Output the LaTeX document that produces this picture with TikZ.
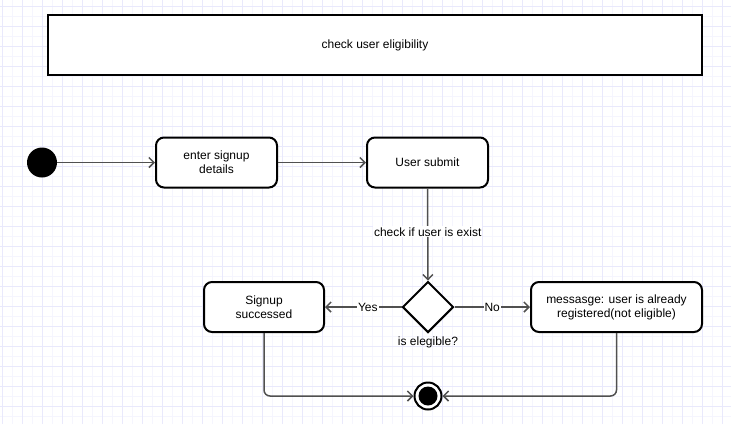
\documentclass[tikz,border=0pt]{standalone}
\usepackage{fontspec}
\setmainfont{Liberation Sans}
\usetikzlibrary{arrows.meta, shapes.geometric, positioning}
\definecolor{gridminor}{RGB}{245,245,254}
\definecolor{gridmajor}{RGB}{233,233,252}
\definecolor{edgegray}{RGB}{80,80,80}
\tikzset{
	every node/.style = {font=\fontsize{12}{14}\selectfont},
	act/.style = {draw, line width=2pt, rounded corners=8pt, fill=white, align=center, minimum height=50pt},
	head/.style = {draw, line width=2pt, fill=white, minimum width=654pt, minimum height=60pt},
	flow/.style = {draw=edgegray, line width=1.5pt, -{Straight Barb[length=5pt,width=10pt]}},
	lbl/.style = {fill=white, inner sep=1pt},
	startdot/.style = {circle, fill=black, minimum size=30pt, inner sep=0pt},
	endring/.style = {circle, draw, line width=2pt, fill=white, minimum size=27pt, inner sep=0pt},
	enddot/.style = {circle, fill=black, minimum size=19pt, inner sep=0pt},
	choice/.style = {diamond, draw, line width=2pt, fill=white, minimum width=51pt, minimum height=51pt, inner sep=0pt},
}

\begin{document}
\begin{tikzpicture}[x=1pt, y=-1pt]
	\useasboundingbox (0,0) rectangle (731,424);
	\fill[white] (0,0) rectangle (731,424);

	% background grid
	\foreach \i in {0,...,72}
		\draw[gridminor, line width=1pt] ({2.5+10*\i},0) -- ({2.5+10*\i},424);
	\foreach \i in {0,...,41}
		\draw[gridminor, line width=1pt] (0,{6+10*\i}) -- (731,{6+10*\i});
	\foreach \i in {0,...,36}
		\draw[gridmajor, line width=1pt] ({2.5+20*\i},0) -- ({2.5+20*\i},424);
	\foreach \i in {0,...,20}
		\draw[gridmajor, line width=1pt] (0,{6+20*\i}) -- (731,{6+20*\i});

	\node[head] (title) at (375,45) {check user eligibility};

	\node[startdot] (init) at (42,162.5) {};
	\node[act, minimum width=121pt] (enter) at (216.5,162.5) {enter signup\\details};
	\node[act, minimum width=121pt] (submit) at (427.5,162.5) {User submit};
	\node[choice] (dec) at (428,307) {};
	\node[below=0pt of dec] (declbl) {is elegible?};
	\node[act, minimum width=120pt] (done) at (264,307) {Signup\\successed};
	\node[act, minimum width=171pt] (msg) at (616.5,307) {messasge: user is already\\registered(not eligible)};
	\node[endring] (stop) at (428,396) {};
	\node[enddot] (stopdot) at (stop) {};

	\draw[flow] (init) -- (enter);
	\draw[flow] (enter) -- (submit);
	\draw[flow] (submit) -- node[lbl, pos=0.47] {check if user is exist} (dec);
	\draw[flow] (dec) -- node[lbl, pos=0.44] {Yes} (done);
	\draw[flow] (dec) -- node[lbl] {No} (msg);
	\draw[flow, rounded corners=6pt] (done.south) |- (stop);
	\draw[flow, rounded corners=6pt] (msg.south) |- (stop);
\end{tikzpicture}
\end{document}
